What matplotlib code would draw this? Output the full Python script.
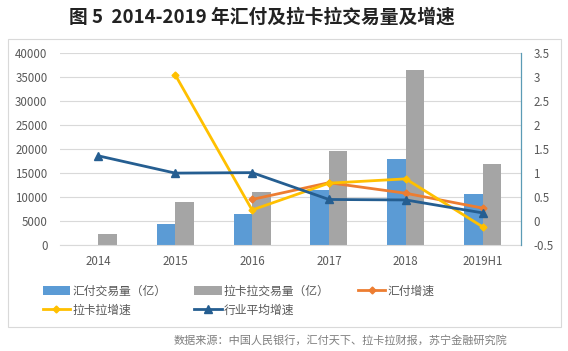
import numpy as np
import matplotlib.pyplot as plt
from matplotlib.patches import Rectangle

plt.rcParams['font.family'] = ['Noto Sans CJK SC', 'DejaVu Sans']

years = ['2014', '2015', '2016', '2017', '2018', '2019H1']
huifu_vol = [0, 4450, 6540, 11480, 17950, 10650]
lakala_vol = [2300, 8970, 11060, 19620, 36530, 16900]
huifu_growth = [np.nan, np.nan, 0.45, 0.80, 0.58, 0.27]
lakala_growth = [np.nan, 3.05, 0.23, 0.79, 0.88, -0.12]
industry_growth = [1.36, 1.00, 1.01, 0.45, 0.44, 0.17]

c_blue = '#5B9BD5'
c_gray = '#A5A5A5'
c_orange = '#ED7D31'
c_yellow = '#FFC000'
c_dark = '#255E91'
tick_col = '#595959'

fig = plt.figure(figsize=(5.68, 3.51), dpi=100)
fig.patch.set_facecolor('white')

# outer chart frame
fig.patches.append(Rectangle((8/568, 1-327/351), 553/568, 288/351, transform=fig.transFigure,
                             fill=False, edgecolor='#D9D9D9', linewidth=0.8))

ax = fig.add_axes([60/568, 1-245/351, 461/568, 191.7/351])
x = np.arange(len(years))
w = 0.24
b1 = ax.bar(x - w/2, huifu_vol, w, color=c_blue, zorder=2)
b2 = ax.bar(x + w/2, lakala_vol, w, color=c_gray, zorder=2)
ax.set_xlim(-0.5, 5.5)
ax.set_ylim(0, 40000)
ax.set_yticks(np.arange(0, 40001, 5000))
ax.yaxis.grid(True, color='#D9D9D9', linewidth=0.8, zorder=0)
ax.set_axisbelow(True)
ax.set_xticks(x)
ax.set_xticklabels(years)
ax.tick_params(length=0, labelsize=8.3, colors=tick_col, pad=9)
ax.tick_params(axis='x', pad=7)
for s in ['left', 'top', 'right']:
    ax.spines[s].set_visible(False)
ax.spines['bottom'].set_color('#D9D9D9')

ax2 = ax.twinx()
l1, = ax2.plot(x, huifu_growth, color=c_orange, lw=2, marker='D', ms=3.5, zorder=3)
l2, = ax2.plot(x, lakala_growth, color=c_yellow, lw=2, marker='D', ms=3.5, zorder=4)
l3, = ax2.plot(x, industry_growth, color=c_dark, lw=2, marker='^', ms=6, zorder=5)
ax2.set_ylim(-0.5, 3.5)
ax2.set_yticks(np.arange(-0.5, 3.51, 0.5))
ax2.set_yticklabels(['-0.5', '0', '0.5', '1', '1.5', '2', '2.5', '3', '3.5'])
ax2.tick_params(length=0, labelsize=8.3, colors=tick_col, pad=9)
for s in ['left', 'top', 'bottom']:
    ax2.spines[s].set_visible(False)
ax2.spines['right'].set_color('#5B9BB5')
ax2.spines['right'].set_linewidth(0.9)

handles = [b1, l2, b2, l3, l1]
labels = ['汇付交易量（亿）', '拉卡拉增速', '拉卡拉交易量（亿）', '行业平均增速', '汇付增速']
fig.legend(handles, labels, ncol=3, loc='upper left', bbox_to_anchor=(32/568, 1-274/351),
           frameon=False, fontsize=8.5, handlelength=2.3, handletextpad=0.2,
           columnspacing=2.4, labelspacing=0.5, labelcolor=tick_col)

fig.text(262/568, 1-17/351, '图 5  2014-2019 年汇付及拉卡拉交易量及增速', ha='center', va='center',
         fontsize=13.5, fontweight='bold', color='#222222')
fig.text(507/568, 1-340/351, '数据来源：中国人民银行，汇付天下、拉卡拉财报，苏宁金融研究院',
         ha='right', va='center', fontsize=8, color='#7F7F7F', style='italic')

fig.savefig('out.png', dpi=100)
